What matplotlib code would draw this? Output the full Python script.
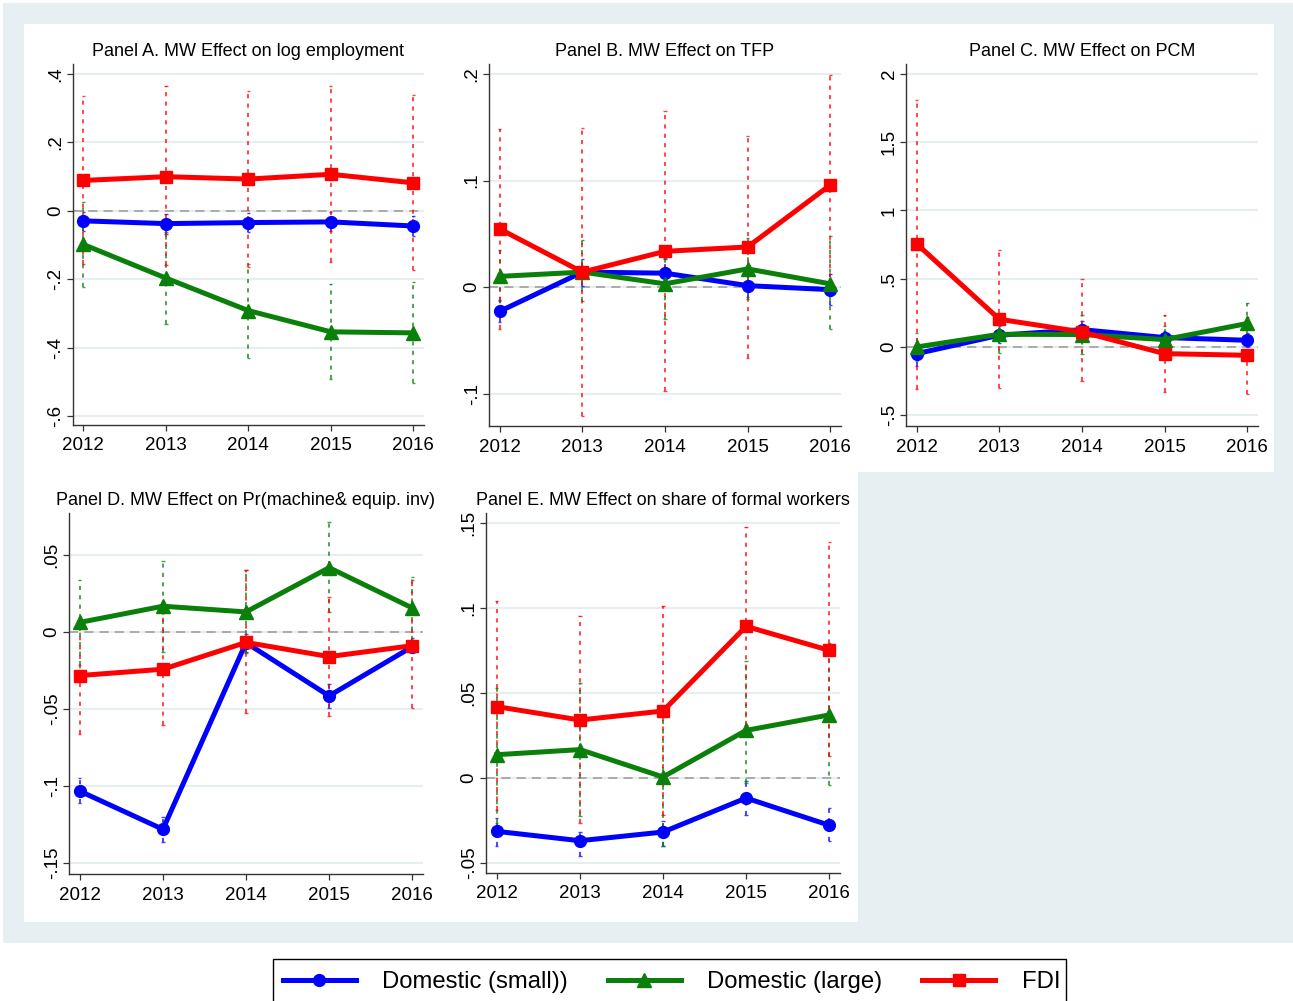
import matplotlib
matplotlib.use('Agg')
import matplotlib.pyplot as plt
from matplotlib.patches import Rectangle
from matplotlib.lines import Line2D

plt.rcParams['font.family'] = ['Liberation Sans', 'DejaVu Sans']

years = [2012, 2013, 2014, 2015, 2016]
series_names = ['Domestic (small))', 'Domestic (large)', 'FDI']

# Panel A: log employment
a_small = [-0.029, -0.037, -0.034, -0.032, -0.044]
a_small_lo = [-0.060, -0.066, -0.062, -0.060, -0.072]
a_small_hi = [-0.003, -0.008, -0.006, -0.003, -0.016]
a_large = [-0.098, -0.196, -0.291, -0.353, -0.356]
a_large_lo = [-0.223, -0.330, -0.428, -0.492, -0.502]
a_large_hi = [0.027, -0.062, -0.154, -0.213, -0.208]
a_fdi = [0.089, 0.100, 0.093, 0.107, 0.082]
a_fdi_lo = [-0.154, -0.159, -0.164, -0.149, -0.171]
a_fdi_hi = [0.336, 0.364, 0.351, 0.364, 0.339]

# Panel B: TFP
b_small = [-0.0228, 0.014, 0.013, 0.0013, -0.0025]
b_small_lo = [-0.033, 0.001, 0.000, -0.009, -0.017]
b_small_hi = [-0.012, 0.026, 0.026, 0.012, 0.012]
b_large = [0.010, 0.014, 0.003, 0.017, 0.003]
b_large_lo = [-0.013, -0.013, -0.030, -0.011, -0.039]
b_large_hi = [0.035, 0.044, 0.027, 0.046, 0.048]
b_fdi = [0.0545, 0.014, 0.0335, 0.0376, 0.0958]
b_fdi_lo = [-0.039, -0.121, -0.098, -0.067, -0.008]
b_fdi_hi = [0.148, 0.149, 0.165, 0.142, 0.199]

# Panel C: PCM
c_small = [-0.049, 0.086, 0.127, 0.069, 0.049]
c_small_lo = [-0.140, 0.030, 0.070, 0.020, 0.000]
c_small_hi = [0.040, 0.150, 0.190, 0.120, 0.100]
c_large = [0.000, 0.093, 0.091, 0.054, 0.172]
c_large_lo = [-0.100, -0.044, -0.049, -0.040, 0.025]
c_large_hi = [0.103, 0.200, 0.233, 0.152, 0.319]
c_fdi = [0.755, 0.203, 0.110, -0.049, -0.061]
c_fdi_lo = [-0.306, -0.299, -0.252, -0.331, -0.343]
c_fdi_hi = [1.809, 0.711, 0.495, 0.233, 0.221]

# Panel D: Pr(machine & equipment investment)
d_small = [-0.1032, -0.128, -0.0069, -0.0414, -0.0095]
d_small_lo = [-0.111, -0.136, -0.0127, -0.049, -0.0127]
d_small_hi = [-0.0946, -0.120, -0.0013, -0.034, -0.004]
d_large = [0.0063, 0.0168, 0.0131, 0.0418, 0.0157]
d_large_lo = [-0.0213, -0.0127, -0.0138, 0.0131, -0.005]
d_large_hi = [0.0336, 0.0459, 0.040, 0.0713, 0.0358]
d_fdi = [-0.0282, -0.0241, -0.0067, -0.0159, -0.0088]
d_fdi_lo = [-0.066, -0.0606, -0.0526, -0.0547, -0.0494]
d_fdi_hi = [0.0099, 0.0127, 0.0405, 0.0228, 0.0336]

# Panel E: share of formal workers
e_small = [-0.0314, -0.0369, -0.0318, -0.0118, -0.0278]
e_small_lo = [-0.0402, -0.0457, -0.0402, -0.0216, -0.0373]
e_small_hi = [-0.0235, -0.032, -0.0255, -0.002, -0.0176]
e_large = [0.0137, 0.0167, 0.0006, 0.028, 0.0371]
e_large_lo = [-0.0265, -0.0225, -0.0402, -0.003, -0.004]
e_large_hi = [0.053, 0.0559, 0.038, 0.0686, 0.0794]
e_fdi = [0.042, 0.0341, 0.0394, 0.0892, 0.0751]
e_fdi_lo = [-0.0186, -0.0265, -0.0216, 0.0314, 0.0127]
e_fdi_hi = [0.104, 0.0951, 0.101, 0.1475, 0.1386]

titles = [
    'Panel A. MW Effect on log employment',
    'Panel B. MW Effect on TFP',
    'Panel C. MW Effect on PCM',
    'Panel D. MW Effect on Pr(machine& equip. inv)',
    'Panel E. MW Effect on share of formal workers',
]
a_ticks = [-0.6, -0.4, -0.2, 0, 0.2, 0.4]
a_labels = ['-.6', '-.4', '-.2', '0', '.2', '.4']
b_ticks = [-0.1, 0, 0.1, 0.2]
b_labels = ['-.1', '0', '.1', '.2']
c_ticks = [-0.5, 0, 0.5, 1, 1.5, 2]
c_labels = ['-.5', '0', '.5', '1', '1.5', '2']
d_ticks = [-0.15, -0.1, -0.05, 0, 0.05]
d_labels = ['-.15', '-.1', '-.05', '0', '.05']
e_ticks = [-0.05, 0, 0.05, 0.1, 0.15]
e_labels = ['-.05', '0', '.05', '.1', '.15']

colors = ['#0000ff', '#0a800a', '#ff0000']
markers = ['o', '^', 's']
msizes = [8.5, 9.5, 8.5]

W, H = 1293, 1001
fig = plt.figure(figsize=(W / 100, H / 100), dpi=100)
fig.patch.set_facecolor('white')


def px_rect(x0, y0, x1, y1, face, edge='none'):
    fig.patches.append(Rectangle((x0 / W, 1 - y1 / H), (x1 - x0) / W, (y1 - y0) / H,
                                 transform=fig.transFigure, facecolor=face,
                                 edgecolor=edge, lw=1.0, zorder=-10))


px_rect(3, 3, 1293, 943, '#e8eff2')
px_rect(24, 24, 1274, 472, 'white')
px_rect(24, 472, 858, 922, 'white')
# legend box, running off the bottom edge
px_rect(273, 959, 1066, 1010, 'white', 'black')


def px_axes(x0, y0, x1, y1):
    return fig.add_axes([x0 / W, 1 - y1 / H, (x1 - x0) / W, (y1 - y0) / H])


def draw_panel(ax, title, data, ticks, labels, ylim):
    ax.set_facecolor('white')
    for yt in ticks:
        ax.axhline(yt, color='#e6eef0', lw=1.6, zorder=0)
    ax.axhline(0, color='#999999', lw=1.1, ls=(0, (6, 4)), zorder=1)
    # confidence intervals: dotted bars with small caps
    for (val, lo, hi), c in zip(data, colors):
        ax.vlines(years, lo, hi, colors=c, linestyles=(0, (2.2, 2.8)), lw=1.35,
                  alpha=0.75, zorder=2)
        ax.hlines(lo + hi, [y - 0.02 for y in years] * 2, [y + 0.02 for y in years] * 2,
                  colors=c, lw=1.0, alpha=0.75, zorder=2)
    for (val, lo, hi), c, m, ms in zip(data, colors, markers, msizes):
        ax.plot(years, val, color=c, lw=3.6, marker=m, ms=ms, zorder=3)
    ax.set_xlim(2011.87, 2016.13)
    ax.set_ylim(*ylim)
    ax.set_xticks(years)
    ax.set_xticklabels([str(y) for y in years])
    ax.set_yticks(ticks)
    ax.set_yticklabels(labels, rotation=90, va='center')
    ax.tick_params(labelsize=13.5, length=4, width=0.9, color='#333333')
    ax.tick_params(axis='x', pad=5)
    ax.tick_params(axis='y', pad=2)
    for s in ['top', 'right']:
        ax.spines[s].set_visible(False)
    for s in ['left', 'bottom']:
        ax.spines[s].set_color('#333333')
        ax.spines[s].set_linewidth(1.0)
    ax.set_title(title, fontsize=13, pad=6)


panels = [
    ((72.7, 64, 424, 425), [(a_small, a_small_lo, a_small_hi), (a_large, a_large_lo, a_large_hi),
                            (a_fdi, a_fdi_lo, a_fdi_hi)], a_ticks, a_labels, (-0.625, 0.429)),
    ((489, 64, 841, 426), [(b_small, b_small_lo, b_small_hi), (b_large, b_large_lo, b_large_hi),
                           (b_fdi, b_fdi_lo, b_fdi_hi)], b_ticks, b_labels, (-0.1305, 0.2094)),
    ((906, 64, 1258, 426), [(c_small, c_small_lo, c_small_hi), (c_large, c_large_lo, c_large_hi),
                            (c_fdi, c_fdi_lo, c_fdi_hi)], c_ticks, c_labels, (-0.579, 2.073)),
    ((69, 513, 423, 874), [(d_small, d_small_lo, d_small_hi), (d_large, d_large_lo, d_large_hi),
                           (d_fdi, d_fdi_lo, d_fdi_hi)], d_ticks, d_labels, (-0.157, 0.0773)),
    ((486, 513, 840, 873), [(e_small, e_small_lo, e_small_hi), (e_large, e_large_lo, e_large_hi),
                            (e_fdi, e_fdi_lo, e_fdi_hi)], e_ticks, e_labels, (-0.0559, 0.1559)),
]

for (box, data, ticks, labels, ylim), title in zip(panels, titles):
    ax = px_axes(*box)
    draw_panel(ax, title, data, ticks, labels, ylim)

handles = [Line2D([], [], color=c, lw=3.6, marker=m, ms=ms)
           for c, m, ms in zip(colors, markers, msizes)]
fig.legend(handles, series_names, loc='center left', ncol=3,
           bbox_to_anchor=(283 / W, 1 - 982 / H), fontsize=17.2,
           handlelength=3.05, handletextpad=1.1, columnspacing=1.68,
           borderpad=0, borderaxespad=0, frameon=False)

fig.savefig('out.png', dpi=100)
